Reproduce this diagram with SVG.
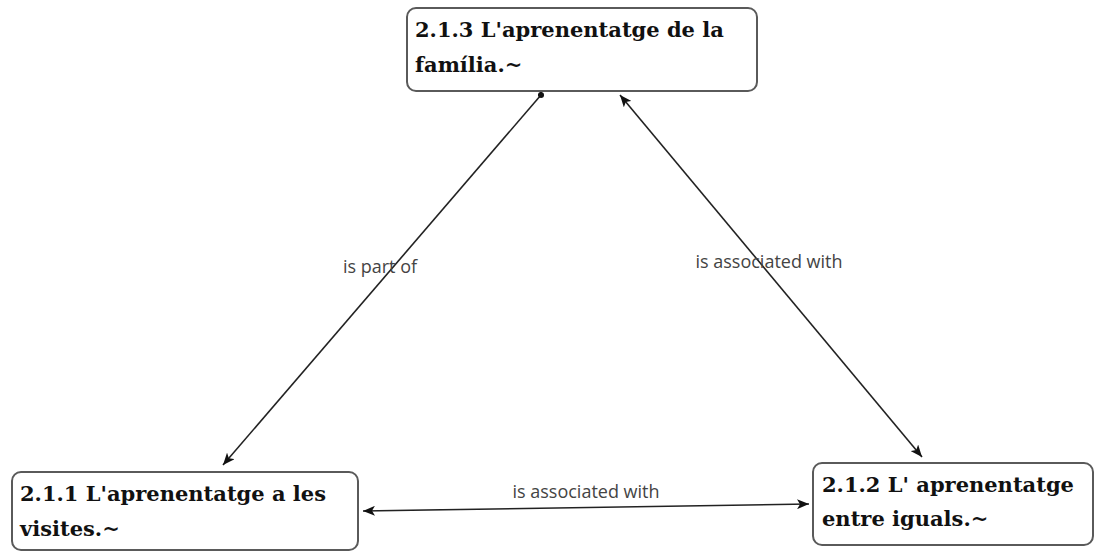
<svg xmlns="http://www.w3.org/2000/svg" width="1096" height="552" viewBox="0 0 1096 552">
  <style>
    .box { fill: #ffffff; stroke: #5a5a5a; stroke-width: 2; }
    .title { font-family: "DejaVu Serif", "Liberation Serif", serif; font-weight: bold; font-size: 21px; fill: #111111; }
    .edge { stroke: #222222; stroke-width: 1.6; fill: none; }
    .lbl { font-family: "Open Sans", "Noto Sans", sans-serif; font-size: 18px; fill: #444444; text-anchor: middle; }
  </style>
  <defs>
    <marker id="arrow" viewBox="0 0 12 10" refX="12" refY="5" markerWidth="12" markerHeight="10" markerUnits="userSpaceOnUse" orient="auto-start-reverse">
      <path d="M0,0 L12,5 L0,10 L3,5 Z" fill="#111111"/>
    </marker>
    <marker id="dot" viewBox="0 0 8 8" refX="4" refY="4" markerWidth="7" markerHeight="7" markerUnits="userSpaceOnUse">
      <circle cx="4" cy="4" r="3.5" fill="#111111"/>
    </marker>
  </defs>

  <g id="connectors">
    <line class="edge" x1="541" y1="95" x2="223" y2="465" marker-start="url(#dot)" marker-end="url(#arrow)"/>
    <text class="lbl" x="380" y="273">is part of</text>
    <line class="edge" x1="620" y1="95" x2="922" y2="457" marker-start="url(#arrow)" marker-end="url(#arrow)"/>
    <text class="lbl" x="769" y="268">is associated with</text>
    <line class="edge" x1="363" y1="511" x2="809" y2="504" marker-start="url(#arrow)" marker-end="url(#arrow)"/>
    <text class="lbl" x="586" y="498">is associated with</text>
  </g>

  <g id="node-213">
    <rect class="box" x="407" y="8" width="350" height="83" rx="9"/>
    <text class="title" x="415" y="37">2.1.3 L'aprenentatge de la</text>
    <text class="title" x="415" y="72">família.~</text>
  </g>

  <g id="node-211">
    <rect class="box" x="12" y="472" width="346" height="78" rx="9"/>
    <text class="title" x="20" y="501">2.1.1 L'aprenentatge a les</text>
    <text class="title" x="20" y="536">visites.~</text>
  </g>

  <g id="node-212">
    <rect class="box" x="813" y="463" width="280" height="82" rx="9"/>
    <text class="title" x="822" y="492">2.1.2 L' aprenentatge</text>
    <text class="title" x="822" y="526">entre iguals.~</text>
  </g>
</svg>
